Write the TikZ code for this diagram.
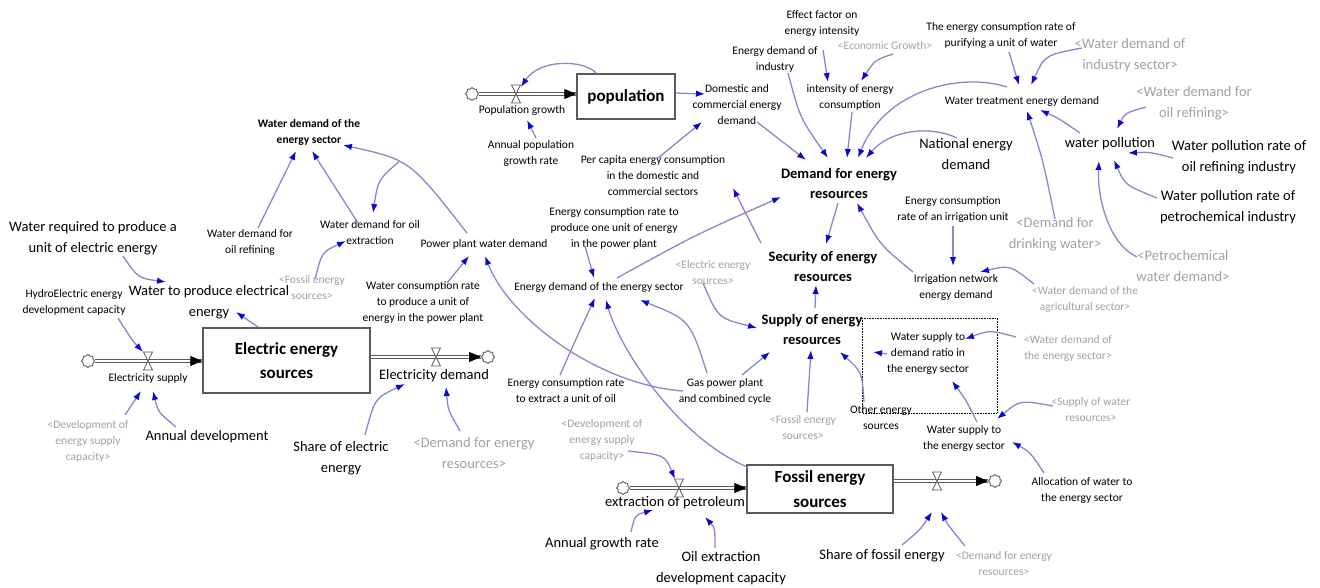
\documentclass[tikz,border=0pt]{standalone}
\usepackage{fontspec}
\setmainfont{Carlito}
\usetikzlibrary{arrows.meta,shapes.symbols}
\definecolor{linkc}{RGB}{135,135,205}
\definecolor{headc}{RGB}{10,10,200}
\definecolor{grayt}{RGB}{160,160,160}
\definecolor{boxc}{RGB}{90,90,90}
\begin{document}
\begin{tikzpicture}[x=1pt,y=-1pt,
  sm/.style={font=\fontsize{11.5}{16}\selectfont, align=center, inner sep=0pt},
  md/.style={font=\fontsize{14.5}{20.5}\selectfont, align=center, inner sep=0pt},
  bsm/.style={sm, font=\fontsize{11.5}{16}\selectfont\bfseries},
  bmd/.style={md, font=\fontsize{14.5}{20}\selectfont\bfseries},
  gsm/.style={sm, text=grayt},
  gmd/.style={md, text=grayt},
  lk/.style={draw=linkc, line width=1.3pt, -{Latex[length=9pt,width=6.5pt,color=headc]}},
  stock/.style={draw=boxc, line width=1.4pt, fill=white, inner sep=0pt, align=center, font=\fontsize{17}{24.5}\selectfont\bfseries},
  cl/.style={cloud, cloud puffs=8, aspect=1, draw=boxc, fill=white, line width=0.9pt, minimum width=13pt, minimum height=13pt, inner sep=0pt},
  pipe/.style={draw=boxc, double=white, double distance=2.2pt, line width=1.1pt},
  ptip/.style={-{Triangle[length=12pt,width=10pt]}, line width=1pt, black},
  vlv/.style={draw=boxc, fill=white, line width=0.8pt}
]
\useasboundingbox (0,0) rectangle (1320,588);

% ---------- text nodes ----------
\node[bsm] (wdes) at (309,132) {Water demand of the\\energy sector};
\node[sm] (wdor) at (250,242) {Water demand for\\oil refining};
\node[sm] (wdox) at (370,233) {Water demand for oil\\extraction};
\node[sm] (ppwd) at (484,244) {Power plant water demand};
\node[gsm] (fes1) at (312,288) {<Fossil energy\\sources>};
\node[md] (wreq) at (93,238) {Water required to produce a\\unit of electric energy};
\node[sm] (hydro) at (74,302) {HydroElectric energy\\development capacity};
\node[md] (wpee) at (209,302) {Water to produce electrical\\energy};
\node[sm] (esup) at (148,378) {Electricity supply};
\node[md] (elecd) at (434,376) {Electricity demand};
\node[gsm] (deg1) at (88,441) {<Development of\\energy supply\\capacity>};
\node[md] (ad) at (207,437) {Annual development};
\node[md] (sel) at (341,458) {Share of electric\\energy};
\node[gmd] (dfer1) at (474,453) {<Demand for energy\\resources>};
\node[sm] (wcr) at (423,303) {Water consumption rate\\to produce a unit of\\energy in the power plant};
\node[sm] (popg) at (522,110) {Population growth};
\node[sm] (apgr) at (531,153) {Annual population\\growth rate};
\node[sm] (dced) at (737,105) {Domestic and\\commercial energy\\demand};
\node[sm] (pcec) at (653,176) {Per capita energy consumption\\in the domestic and\\commercial sectors};
\node[sm] (eff) at (822,24) {Effect factor on\\energy intensity};
\node[sm] (edi) at (775,59) {Energy demand of\\industry};
\node[gsm] (ecog) at (885,46) {<Economic Growth>};
\node[sm] (iec) at (850,97) {intensity of energy\\consumption};
\node[sm] (ecrp) at (1001,35) {The energy consumption rate of\\purifying a unit of water};
\node[gmd] (wdis) at (1130,55) {<Water demand of\\industry sector>};
\node[sm] (wted) at (1022,101) {Water treatment energy demand};
\node[gmd] (wdorg) at (1194,103) {<Water demand for\\oil refining>};
\node[md] (wpol) at (1110,144) {water pollution};
\node[md] (wpro) at (1239,157) {Water pollution rate of\\oil refining industry};
\node[md] (wprp) at (1228,207) {Water pollution rate of\\petrochemical industry};
\node[md] (ned) at (966,154) {National energy\\demand};
\node[bmd] (dem) at (839,183) {Demand for energy\\resources};
\node[sm] (ecri) at (953,210) {Energy consumption\\rate of an irrigation unit};
\node[gmd] (ddw) at (1055,234) {<Demand for\\drinking water>};
\node[gmd] (pwd) at (1183,266) {<Petrochemical\\water demand>};
\node[sm] (ined) at (956,287) {Irrigation network\\energy demand};
\node[gsm] (wdag) at (1085,299) {<Water demand of the\\agricultural sector>};
\node[bmd] (sec) at (823,266) {Security of energy\\resources};
\node[bmd] (sup) at (812,329) {Supply of energy\\resources};
\node[sm] (ratio) at (928,353) {Water supply to\\demand ratio in\\the energy sector};
\node[gsm] (wdesg) at (1068,348) {<Water demand of\\the energy sector>};
\node[gsm] (swr) at (1091,410) {<Supply of water\\resources>};
\node[sm] (wsup) at (964,438) {Water supply to\\the energy sector};
\node[sm] (alloc) at (1082,490) {Allocation of water to\\the energy sector};
\node[sm] (oth) at (881,418) {Other energy\\sources};
\node[gsm] (fes2) at (803,428) {<Fossil energy\\sources>};
\node[md] (exp) at (675,503) {extraction of petroleum};
\node[gsm] (deg2) at (602,440) {<Development of\\energy supply\\capacity>};
\node[md] (agr) at (602,544) {Annual growth rate};
\node[md] (oedc) at (721,568) {Oil extraction\\development capacity};
\node[md] (sfe) at (882,556) {Share of fossil energy};
\node[gsm] (dfer2) at (1004,564) {<Demand for energy\\resources>};
\node[sm] (ecr1) at (614,228) {Energy consumption rate to\\produce one unit of energy\\in the power plant};
\node[sm] (edes) at (599,287) {Energy demand of the energy sector};
\node[gsm] (eesg) at (713,273) {<Electric energy\\sources>};
\node[sm] (ecro) at (566,391) {Energy consumption rate\\to extract a unit of oil};
\node[sm] (gas) at (725,391) {Gas power plant\\and combined cycle};

% ---------- stocks, clouds, valves ----------
\node[stock, minimum width=167pt, minimum height=65pt] (ees) at (286.5,360.5) {Electric energy\\sources};
\node[stock, minimum width=98pt, minimum height=45pt] (pop) at (626,96.5) {population};
\node[stock, minimum width=146pt, minimum height=48pt] (fos) at (820,489) {Fossil energy\\sources};
\node[cl] (cE1) at (88,361) {};
\node[cl] (cE2) at (488,357) {};
\node[cl] (cP) at (472,94) {};
\node[cl] (cF1) at (623,488) {};
\node[cl] (cF2) at (995,481) {};
\coordinate (vE1) at (148,361);
\coordinate (vE2) at (436,357);
\coordinate (vP) at (516,94);
\coordinate (vF1) at (679,488);
\coordinate (vF2) at (937,481);
\coordinate (eE) at (ees.west |- cE1);
\coordinate (eS) at (ees.east |- cE2);
\coordinate (pE) at (pop.west |- cP);
\coordinate (fE) at (fos.west |- cF1);
\coordinate (fS) at (fos.east |- cF2);

\draw[pipe] (cE1) -- (eE);
\draw[ptip] ([xshift=-12pt]eE) -- (eE);
\draw[pipe] (eS) -- (cE2);
\draw[ptip] ([xshift=-12pt]cE2.west) -- (cE2.west);
\draw[pipe] (cP) -- (pE);
\draw[ptip] ([xshift=-12pt]pE) -- (pE);
\draw[pipe] (cF1) -- (fE);
\draw[ptip] ([xshift=-12pt]fE) -- (fE);
\draw[pipe] (fS) -- (cF2);
\draw[ptip] ([xshift=-12pt]cF2.west) -- (cF2.west);

\foreach \v in {vE1,vE2,vP,vF1,vF2}{
  \draw[vlv] ([shift={(-4.5,-9)}]\v) -- ([shift={(4.5,-9)}]\v) -- ([shift={(-4.5,9)}]\v) -- ([shift={(4.5,9)}]\v) -- cycle;
}

\draw[densely dotted, line width=0.6pt] (862,318) rectangle (997,413);

% ---------- connectors ----------
\draw[lk] ([shift={(8,-14)}]wdor.center) -- ([shift={(-13,19)}]wdes.center);
\draw[lk] ([shift={(-12,-10)}]wdox.center) -- ([shift={(3,19)}]wdes.center);
\draw[lk] ([shift={(-17,-11)}]ppwd.center) .. controls (410,160) .. ([shift={(34,13)}]wdes.center) coordinate[pos=0.6] (br);
\draw[lk] (br) .. controls (378,180) .. ([shift={(3,-20)}]wdox.center);
\draw[lk] ([shift={(3,-9)}]fes1.center) .. controls (322,252) .. ([shift={(-24,8)}]wdox.center);
\draw[lk] ([shift={(30,18)}]wreq.center) .. controls (138,278) .. ([shift={(-43,-20)}]wpee.center);
\draw[lk] ([shift={(-28,0)}]ees.north) -- ([shift={(27,10)}]wpee.center);
\draw[lk] ([shift={(44,16)}]hydro.center) .. controls (132,340) .. ([shift={(-5,-9)}]vE1);
\draw[lk] ([shift={(37,-26)}]deg1.center) .. controls (135,400) .. ([shift={(-7,30)}]vE1);
\draw[lk] ([shift={(-31,-10)}]ad.center) .. controls (158,412) .. ([shift={(5,30)}]vE1);
\draw[lk] ([shift={(24,-23)}]sel.center) .. controls (375,398) .. ([shift={(-29,8)}]elecd.center);
\draw[lk] ([shift={(-14,-22)}]dfer1.center) .. controls (448,410) .. ([shift={(12,11)}]elecd.center);
\draw[lk] ([shift={(24,-20)}]wcr.center) -- ([shift={(-15,12)}]ppwd.center);
\draw[lk] ([shift={(-42,0)}]gas.center) .. controls (600,385) and (510,320) .. ([shift={(1,12)}]ppwd.center);
\draw[lk] ([shift={(-29,18)}]ecr1.center) -- ([shift={(-5,-9)}]edes.center);
\draw[lk] ([shift={(18,-9)}]edes.center) .. controls (695,235) .. ([shift={(-58,14)}]dem.center);
\draw[lk] ([shift={(-6,-16)}]ecro.center) .. controls (580,330) .. ([shift={(-4,11)}]edes.center);
\draw[lk] ([shift={(2,3)}]fos.north west) .. controls (680,440) and (620,350) .. ([shift={(7,13)}]edes.center);
\draw[lk] ([shift={(-18,-18)}]gas.center) .. controls (690,320) .. ([shift={(41,13)}]edes.center);
\draw[lk] ([shift={(17,-16)}]gas.center) -- ([shift={(-42,23)}]sup.center);
\draw[lk] ([shift={(-10,10)}]eesg.center) .. controls (718,318) .. ([shift={(-55,-1)}]sup.center);
\draw[lk] ([shift={(3,-21)}]sup.center) -- ([shift={(-7,19)}]sec.center);
\draw[lk] ([shift={(-1,20)}]dem.center) -- ([shift={(3,-22)}]sec.center);
\draw[lk] ([shift={(-62,-23)}]sec.center) .. controls (745,212) .. ([shift={(80,12)}]pcec.center);
\draw[lk] ([shift={(20,17)}]dced.center) -- ([shift={(-33,-23)}]dem.center);
\draw[lk] ([shift={(13,14)}]edi.center) .. controls (800,118) .. ([shift={(-11,-25)}]dem.center);
\draw[lk] ([shift={(2,15)}]iec.center) -- ([shift={(8,-25)}]dem.center);
\draw[lk] ([shift={(-15,-14)}]wted.center) .. controls (960,72) and (885,90) .. ([shift={(19,-25)}]dem.center);
\draw[lk] ([shift={(-9,-16)}]ned.center) .. controls (930,125) and (890,130) .. ([shift={(27,-25)}]dem.center);
\draw[lk] ([shift={(-43,-15)}]ined.center) .. controls (880,245) .. ([shift={(18,20)}]dem.center);
\draw[lk] ([shift={(0,16)}]ecri.center) -- ([shift={(-3,-21)}]ined.center);
\draw[lk] ([shift={(-51,-15)}]wdag.center) .. controls (1010,265) .. ([shift={(24,-15)}]ined.center);
\draw[lk] ([shift={(1,26)}]eff.center) -- ([shift={(-22,-15)}]iec.center);
\draw[lk] ([shift={(8,8)}]ecog.center) .. controls (875,60) .. ([shift={(11,-16)}]iec.center);
\draw[lk] ([shift={(8,17)}]ecrp.center) -- ([shift={(-3,-16)}]wted.center);
\draw[lk] ([shift={(-48,-7)}]wdis.center) .. controls (1045,55) .. ([shift={(9,-16)}]wted.center);
\draw[lk] ([shift={(-30,-11)}]wpol.center) .. controls (1058,118) .. ([shift={(18,9)}]wted.center);
\draw[lk] ([shift={(0,-15)}]ddw.center) .. controls (1043,160) .. ([shift={(5,10)}]wted.center);
\draw[lk] ([shift={(-48,4)}]wdorg.center) .. controls (1125,113) .. ([shift={(7,-15)}]wpol.center);
\draw[lk] ([shift={(-66,1)}]wpro.center) .. controls (1150,152) .. ([shift={(18,9)}]wpol.center);
\draw[lk] ([shift={(-71,-9)}]wprp.center) .. controls (1125,185) .. ([shift={(4,16)}]wpol.center);
\draw[lk] ([shift={(-46,-9)}]pwd.center) .. controls (1110,245) and (1097,200) .. ([shift={(-11,17)}]wpol.center);
\draw[lk] ([shift={(-52,-11)}]wdesg.center) .. controls (990,330) .. ([shift={(37,-14)}]ratio.center);
\draw[lk] ([shift={(13,-16)}]wsup.center) .. controls (966,400) .. ([shift={(24,28)}]ratio.center);
\draw[lk] ([shift={(-41,1)}]ratio.center) -- ([shift={(61,23)}]sup.center);
\draw[lk] ([shift={(-38,-4)}]swr.center) .. controls (1020,400) .. ([shift={(33,-19)}]wsup.center);
\draw[lk] ([shift={(-38,-17)}]alloc.center) .. controls (1030,452) .. ([shift={(48,4)}]wsup.center);
\draw[lk] ([shift={(4,-16)}]fes2.center) -- ([shift={(-1,21)}]sup.center);
\draw[lk] ([shift={(-17,-16)}]oth.center) .. controls (862,372) .. ([shift={(28,23)}]sup.center);
\draw[lk] ([shift={(20,-11)}]sfe.center) .. controls (920,530) .. ([shift={(-5,31)}]vF2);
\draw[lk] ([shift={(-39,-18)}]dfer2.center) .. controls (948,525) .. ([shift={(4,31)}]vF2);
\draw[lk] ([shift={(26,11)}]deg2.center) .. controls (665,455) .. ([shift={(-4,-9)}]vF1);
\draw[lk] ([shift={(29,-12)}]agr.center) .. controls (635,515) .. ([shift={(-22,7)}]exp.center);
\draw[lk] ([shift={(-6,-20)}]oedc.center) .. controls (715,528) .. ([shift={(30,14)}]exp.center);
\draw[lk] ([shift={(5,-15)}]apgr.center) -- ([shift={(5,10)}]popg.center);
\draw[lk] ([shift={(20,0)}]pop.north west) .. controls (585,60) and (540,58) .. ([shift={(5,-7)}]vP);
\draw[lk] ([shift={(0,-3.5)}]pop.east) -- ([shift={(-32,-11)}]dced.center);
\draw[lk] ([shift={(5,-18)}]pcec.center) -- ([shift={(-35,17)}]dced.center);
\end{tikzpicture}
\end{document}
